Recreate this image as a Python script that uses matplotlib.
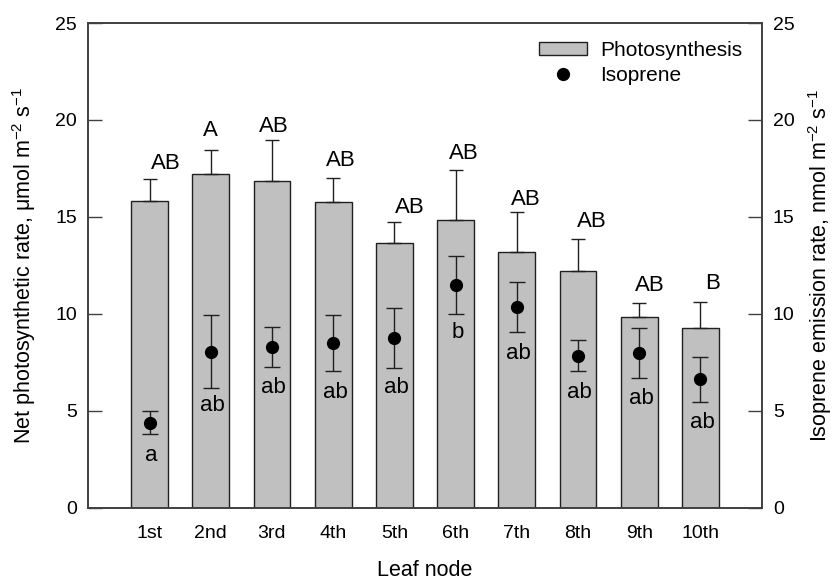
import numpy as np
import matplotlib
matplotlib.use("Agg")
import matplotlib.pyplot as plt
from matplotlib.patches import Patch
from matplotlib.lines import Line2D

plt.rcParams['font.family'] = ['Liberation Sans', 'DejaVu Sans']
plt.rcParams['mathtext.fontset'] = 'custom'
plt.rcParams['mathtext.rm'] = 'Liberation Sans'
plt.rcParams['mathtext.it'] = 'Liberation Sans'

# Données : taux de photosynthèse nette et émission d'isoprène par nœud foliaire
noeuds = ["1st", "2nd", "3rd", "4th", "5th", "6th", "7th", "8th", "9th", "10th"]
photo = [15.81, 17.22, 16.86, 15.79, 13.63, 14.85, 13.21, 12.21, 9.81, 9.25]
photo_err = [1.14, 1.22, 2.10, 1.20, 1.09, 2.56, 2.06, 1.67, 0.76, 1.36]
iso = [4.38, 8.05, 8.31, 8.51, 8.77, 11.49, 10.34, 7.84, 7.97, 6.61]
iso_err = [0.60, 1.87, 1.03, 1.45, 1.55, 1.48, 1.28, 0.80, 1.29, 1.17]

# Lettres de significativité
lettres_photo = ["AB", "A", "AB", "AB", "AB", "AB", "AB", "AB", "AB", "B"]
lettres_iso = ["a", "ab", "ab", "ab", "ab", "b", "ab", "ab", "ab", "ab"]

# Position des lettres (décalage horizontal, ordonnée de la ligne de base)
dx_photo = [0.26, 0.0, 0.03, 0.12, 0.25, 0.14, 0.15, 0.23, 0.17, 0.19]
y_photo = [17.49, 19.15, 19.40, 17.62, 15.20, 17.97, 15.60, 14.50, 11.20, 11.28]
y_iso = [2.39, 4.97, 5.93, 5.64, 5.89, 8.75, 7.68, 5.64, 5.35, 4.11]

gris = "#c0c0c0"
spine = "#404040"

fig = plt.figure(figsize=(8.37, 5.81), dpi=100)
ax = fig.add_axes([0.1055, 0.1263, 0.8045, 0.8341])
ax2 = ax.twinx()

x = np.arange(len(noeuds))

ax.bar(x, photo, width=0.6, color=gris, edgecolor="#202020", linewidth=1.0, zorder=2)
ax.errorbar(x, photo, yerr=[np.zeros(len(photo)), photo_err], fmt='none',
            ecolor="#202020", elinewidth=1.0, capsize=5, capthick=1.0, zorder=3)

ax2.errorbar(x, iso, yerr=iso_err, fmt='o', color='black', ms=8.5,
             ecolor="#202020", elinewidth=1.0, capsize=5.5, capthick=1.0, zorder=4)

for i in range(len(noeuds)):
    ax.text(x[i] + dx_photo[i], y_photo[i], lettres_photo[i], ha='center',
            va='baseline', fontsize=16)
    ax.text(x[i] + 0.03, y_iso[i], lettres_iso[i], ha='center',
            va='baseline', fontsize=16)

for a in (ax, ax2):
    a.set_xlim(-1, 10)
    a.set_ylim(0, 25)
    a.set_yticks([0, 5, 10, 15, 20, 25])
    for s in a.spines.values():
        s.set_color(spine)
        s.set_linewidth(1.2)
    a.tick_params(axis='y', direction='in', length=10, width=1.0,
                  color=spine, labelsize=14, pad=8)

ax.set_xticks(x)
ax.set_xticklabels(noeuds)
ax.tick_params(axis='x', length=0, labelsize=14, pad=12.5)

ax.set_xlabel("Leaf node", fontsize=15.5, labelpad=13)
ax.set_ylabel(r"Net photosynthetic rate, $\mathregular{\mu}$mol m$^{-2}$ s$^{-1}$",
              fontsize=15.5)
ax.yaxis.set_label_coords(-0.074, 0.5)
ax2.set_ylabel(r"Isoprene emission rate, nmol m$^{-2}$ s$^{-1}$",
               fontsize=15.5, rotation=90)
ax2.yaxis.set_label_coords(1.066, 0.5)

poignees = [Patch(facecolor=gris, edgecolor="#202020", linewidth=1.0),
            Line2D([], [], marker='o', color='black', ls='none', ms=8.5)]
ax2.legend(poignees, ["Photosynthesis", "Isoprene"], loc='upper left',
           bbox_to_anchor=(0.669, 0.963), frameon=False, fontsize=15,
           borderpad=0, borderaxespad=0,
           handlelength=2.3, handleheight=0.625, handletextpad=0.63,
           labelspacing=0.3)

fig.savefig("out.png", dpi=100)
